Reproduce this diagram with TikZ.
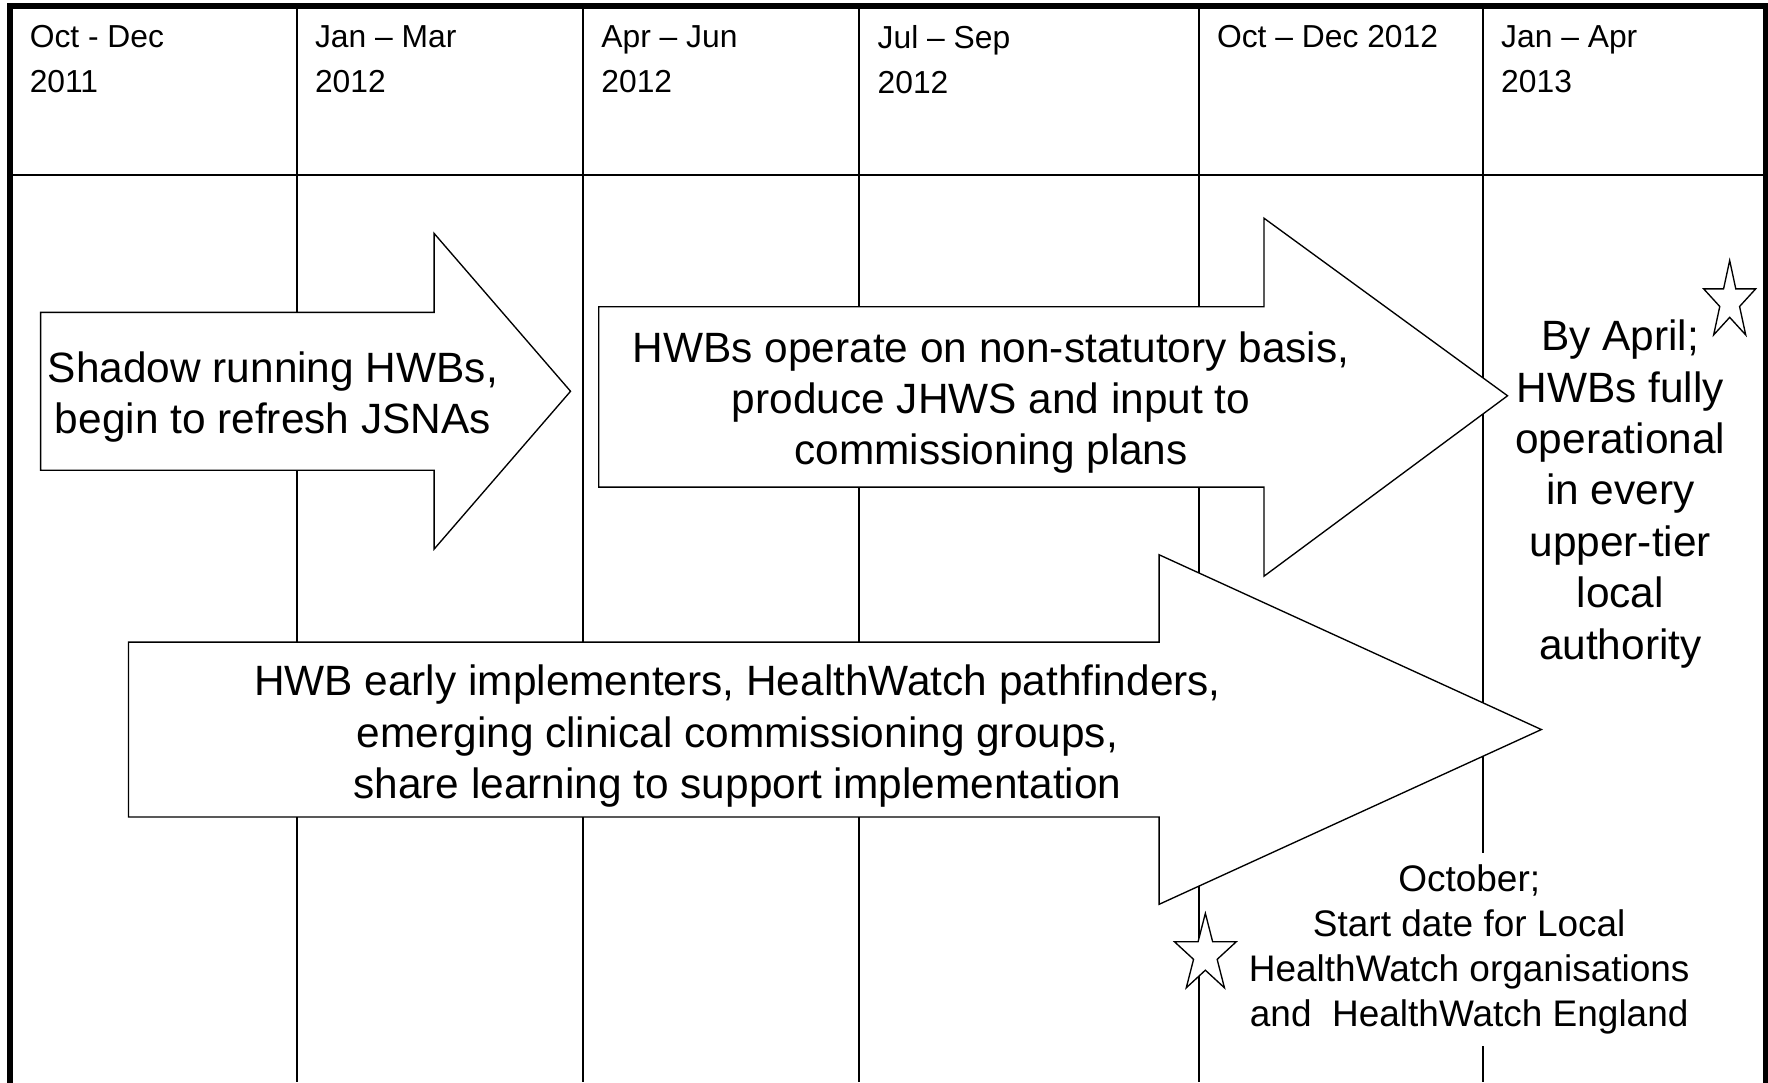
\documentclass[tikz,border=0pt]{standalone}
\usepackage{fontspec}
\setmainfont{Liberation Sans}

\begin{document}
\begin{tikzpicture}[x=0.5pt,y=-0.5pt,
  grid/.style={line width=0.9pt},
  frame/.style={line width=2.6pt},
  bigarrow/.style={draw,fill=white,line width=0.6pt,line join=miter},
  starline/.style={draw,fill=white,line width=0.6pt,line join=miter},
  head/.style={anchor=north west,align=left,inner sep=0pt,
    font=\fontsize{14.1}{20}\selectfont},
  label/.style={align=center,inner sep=0pt,
    font=\fontsize{18.8}{22.8}\selectfont},
  note/.style={align=center,inner xsep=3pt,inner ysep=5pt,
    font=\fontsize{16.4}{20}\selectfont}]
  \useasboundingbox (0,0) rectangle (1568,960);

  % columns and frame
  \foreach \x in {263,517,762,1063,1315}
    \draw[grid] (\x,5.6) -- (\x,960);
  \draw[grid] (9,155) -- (1566,155);
  \draw[frame] (9,962) -- (9,5.6) -- (1566,5.6) -- (1566,962);

  \node[head] (q1) at (26,22) {Oct - Dec\\2011};
  \node[head] (q2) at (279,22) {Jan -- Mar\\2012};
  \node[head] (q3) at (533,22) {Apr -- Jun\\2012};
  \node[head] (q4) at (778,22) {Jul -- Sep\\2012};
  \node[head] (q5) at (1079,22) {Oct -- Dec 2012};
  \node[head] (q6) at (1331,22) {Jan -- Apr\\2013};

  \node[note,fill=white] (october) at (1303,842)
    {October;\\Start date for Local\\HealthWatch organisations\\and \ HealthWatch England};

  % arrows
  \draw[bigarrow] (36,277) -- (385,277) -- (385,207) -- (506,347)
    -- (385,487) -- (385,417) -- (36,417) -- cycle;
  \draw[bigarrow] (531,272) -- (1121,272) -- (1121,193.5) -- (1337,351)
    -- (1121,511) -- (1121,432) -- (531,432) -- cycle;
  \draw[bigarrow] (114,569.5) -- (1028,569.5) -- (1028,492) -- (1367,647)
    -- (1028,802) -- (1028,724.5) -- (114,724.5) -- cycle;

  \node[label] (shadow) at (242,352) {Shadow running HWBs,\\begin to refresh JSNAs};
  \node[label] (operate) at (879,357)
    {HWBs operate on non-statutory basis,\\produce JHWS and input to\\commissioning plans};
  \node[label] (early) at (654,653)
    {HWB early implementers, HealthWatch pathfinders,\\emerging clinical commissioning groups,\\share learning to support implementation};
  \node[label] (april) at (1437,438)
    {By April;\\HWBs fully\\operational\\in every\\upper-tier\\local\\authority};

  % milestones
  \draw[starline] (1534,267.5) +(-90:24.2 and 36.5)
    \foreach \a in {0,...,4} {-- +(-54+72*\a:9.24 and 13.94) -- +(-18+72*\a:24.2 and 36.5)} -- cycle;
  \draw[starline] (1069,846.5) +(-90:28.8 and 36.5)
    \foreach \a in {0,...,4} {-- +(-54+72*\a:11 and 13.94) -- +(-18+72*\a:28.8 and 36.5)} -- cycle;
\end{tikzpicture}
\end{document}
